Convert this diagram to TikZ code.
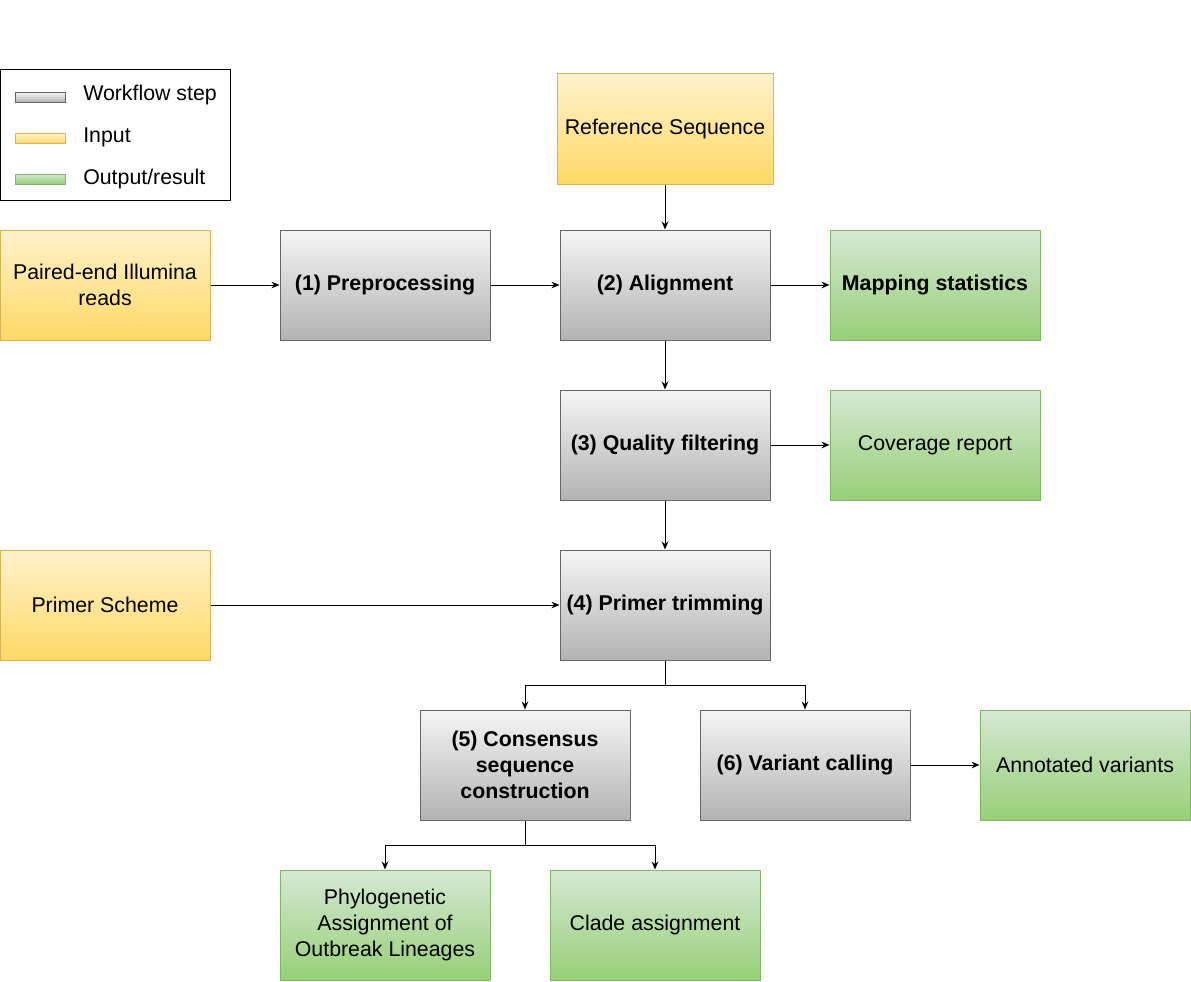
\documentclass[tikz,border=0pt]{standalone}
\usepackage{fontspec}
\setmainfont{Liberation Sans}
\usepackage{tikz}
\usetikzlibrary{arrows.meta}
\definecolor{stepTop}{HTML}{F5F5F5}
\definecolor{stepBot}{HTML}{B3B3B3}
\definecolor{stepLine}{HTML}{666666}
\definecolor{inTop}{HTML}{FFF2CC}
\definecolor{inBot}{HTML}{FFD966}
\definecolor{inLine}{HTML}{D6B656}
\definecolor{outTop}{HTML}{D5E8D4}
\definecolor{outBot}{HTML}{97D077}
\definecolor{outLine}{HTML}{82B366}
\tikzstyle{box}=[rectangle,minimum width=157.5pt,minimum height=82.5pt,inner sep=2pt,align=center,line width=0.75pt,font=\fontsize{16}{19.5}\selectfont]
\tikzstyle{wstep}=[box,draw=stepLine,top color=stepTop,bottom color=stepBot,font=\fontsize{16}{19.5}\selectfont\bfseries]
\tikzstyle{winput}=[box,draw=inLine,top color=inTop,bottom color=inBot]
\tikzstyle{wresult}=[box,draw=outLine,top color=outTop,bottom color=outBot]
\tikzstyle{swatch}=[rectangle,minimum width=37.5pt,minimum height=7.5pt,inner sep=0pt,line width=0.75pt]
\tikzstyle{legtext}=[anchor=west,inner sep=0pt,font=\fontsize{16}{19.5}\selectfont]
\tikzstyle{flow}=[line width=0.75pt,-{Stealth[length=6pt,width=5pt]}]
\newcommand{\tikzpx}{0.75pt}

\begin{document}
\begin{tikzpicture}[x=\tikzpx,y=-\tikzpx]
    \useasboundingbox (0,0) rectangle (1191,981);
%   legend
    \node[draw,line width=0.75pt,minimum width=172.5pt,minimum height=97.5pt] (legend) at (115,135) {};
    \node[swatch,draw=stepLine,top color=stepTop,bottom color=stepBot] (sw1) at (40,97) {};
    \node[swatch,draw=inLine,top color=inTop,bottom color=inBot] (sw2) at (40,138) {};
    \node[swatch,draw=outLine,top color=outTop,bottom color=outBot] (sw3) at (40,179) {};
    \node[legtext] (lt1) at (83,95) {Workflow step};
    \node[legtext] (lt2) at (83,137) {Input};
    \node[legtext] (lt3) at (83,179) {Output/result};
%   inputs
    \node[winput,minimum width=162pt] (ref) at (665,129) {Reference Sequence};
    \node[winput] (reads) at (105,285) {Paired-end Illumina\\reads};
    \node[winput] (scheme) at (105,605) {Primer Scheme};
%   steps
    \node[wstep] (prep) at (385,285) {(1) Preprocessing};
    \node[wstep] (align) at (665,285) {(2) Alignment};
    \node[wstep] (qual) at (665,445) {(3) Quality filtering};
    \node[wstep] (trim) at (665,605) {(4) Primer trimming};
    \node[wstep] (cons) at (525,765) {(5) Consensus\\sequence\\construction};
    \node[wstep] (var) at (805,765) {(6) Variant calling};
%   results
    \node[wresult,font=\fontsize{16}{19.5}\selectfont\bfseries] (mapstat) at (935,285) {Mapping statistics};
    \node[wresult] (cov) at (935,445) {Coverage report};
    \node[wresult] (annot) at (1085,765) {Annotated variants};
    \node[wresult] (phylo) at (385,925) {Phylogenetic\\Assignment of\\Outbreak Lineages};
    \node[wresult] (clade) at (655,925) {Clade assignment};
%   connectors
    \draw[flow] (ref) -- (align);
    \draw[flow] (reads) -- (prep);
    \draw[flow] (prep) -- (align);
    \draw[flow] (align) -- (mapstat);
    \draw[flow] (align) -- (qual);
    \draw[flow] (qual) -- (cov);
    \draw[flow] (qual) -- (trim);
    \draw[flow] (scheme) -- (trim);
    \draw[flow] (trim.south) -- ++(0,25) -| (cons.north);
    \draw[flow] (trim.south) -- ++(0,25) -| (var.north);
    \draw[flow] (var) -- (annot);
    \draw[flow] (cons.south) -- ++(0,25) -| (phylo.north);
    \draw[flow] (cons.south) -- ++(0,25) -| (clade.north);
\end{tikzpicture}
\end{document}
